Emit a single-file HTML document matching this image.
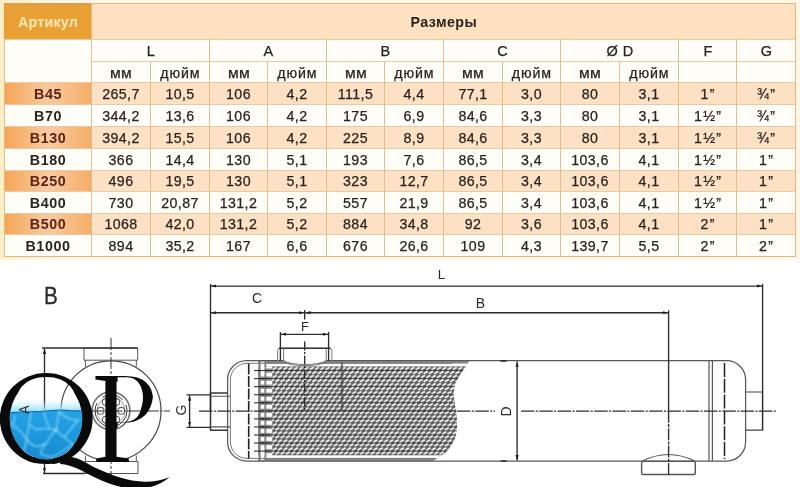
<!DOCTYPE html>
<html><head><meta charset="utf-8"><title>Размеры</title>
<style>
html,body{margin:0;padding:0;background:#fff;}
body{width:800px;height:487px;position:relative;overflow:hidden;font-family:"Liberation Sans",sans-serif;color:#2a2320;}
#tbl{position:absolute;left:0;top:0;width:800px;height:263px;background:linear-gradient(180deg,#fef6e2 0,#fef6e2 257px,#fffdf8 261px,#fff 263px);}
#tbl:before{content:"";position:absolute;left:0;top:0;width:60px;height:259px;background:linear-gradient(90deg,#fdeec4 0,#fdeec4 5px,rgba(253,238,196,0) 60px);}
#frame{position:absolute;left:4px;top:3px;width:792px;height:254px;box-sizing:border-box;border-right:1px solid #dcb98a;border-bottom:1px solid #dcb98a;pointer-events:none;}
.c{position:absolute;box-sizing:border-box;text-align:center;font-size:14.2px;border-left:1px solid #e0bc90;border-top:1px solid #e9caa2;white-space:nowrap;overflow:hidden;-webkit-text-stroke:0.25px #2a2320;letter-spacing:0.4px;}
.w{background:#fffdf8;}
.p{background:#fce1c4;}
.a1{background:linear-gradient(90deg,#f5a656 0%,#f9cba2 50%,#f6ad66 100%);color:#5a241a;-webkit-text-stroke-color:#5a241a;}
.b{font-weight:bold;font-size:14.3px;letter-spacing:0.6px;-webkit-text-stroke-width:0;}
.art{background:linear-gradient(180deg,#dc9c40 0,#e9a136 3px,#e9a136 100%);color:#fce8b2;font-weight:bold;font-size:14.3px;letter-spacing:0.2px;border-color:#d8a050;-webkit-text-stroke-width:0;}
.hdr{background:#fde1c1;font-weight:bold;font-size:14.3px;text-align:left;padding-left:318.5px;border-top-color:#d9b98e;-webkit-text-stroke-width:0;}
.h2{font-size:14.5px;padding-left:1.2px;}
.h3{font-size:14.2px;letter-spacing:0.9px;padding-left:0.8px;padding-top:0.6px;}
.mm{letter-spacing:0.3px;padding-left:0.3px;}
.mm span{display:inline-block;transform:scaleX(1.1);}
.fg{letter-spacing:1.3px;padding-left:1.3px;}
#dr{position:absolute;left:0;top:0;}
</style></head><body>
<div id="tbl">
<div class="c art" style="left:4px;top:3px;width:87px;height:36px;line-height:36px;">Артикул</div>
<div class="c hdr" style="left:91px;top:3px;width:704px;height:36px;line-height:36px;">Размеры</div>
<div class="c w" style="left:4px;top:39px;width:87px;height:43px;line-height:43px;"></div>
<div class="c w h2" style="left:91px;top:39px;width:118px;height:22px;line-height:22px;">L</div>
<div class="c w h3 mm" style="left:91px;top:61px;width:59px;height:21px;line-height:21px;"><span>мм</span></div>
<div class="c w h3" style="left:150px;top:61px;width:59px;height:21px;line-height:21px;">дюйм</div>
<div class="c w h2" style="left:209px;top:39px;width:117px;height:22px;line-height:22px;">A</div>
<div class="c w h3 mm" style="left:209px;top:61px;width:58px;height:21px;line-height:21px;"><span>мм</span></div>
<div class="c w h3" style="left:267px;top:61px;width:59px;height:21px;line-height:21px;">дюйм</div>
<div class="c w h2" style="left:326px;top:39px;width:117px;height:22px;line-height:22px;">B</div>
<div class="c w h3 mm" style="left:326px;top:61px;width:58px;height:21px;line-height:21px;"><span>мм</span></div>
<div class="c w h3" style="left:384px;top:61px;width:59px;height:21px;line-height:21px;">дюйм</div>
<div class="c w h2" style="left:443px;top:39px;width:117px;height:22px;line-height:22px;">C</div>
<div class="c w h3 mm" style="left:443px;top:61px;width:59px;height:21px;line-height:21px;"><span>мм</span></div>
<div class="c w h3" style="left:502px;top:61px;width:58px;height:21px;line-height:21px;">дюйм</div>
<div class="c w h2" style="left:560px;top:39px;width:118px;height:22px;line-height:22px;">Ø D</div>
<div class="c w h3 mm" style="left:560px;top:61px;width:59px;height:21px;line-height:21px;"><span>мм</span></div>
<div class="c w h3" style="left:619px;top:61px;width:59px;height:21px;line-height:21px;">дюйм</div>
<div class="c w h2" style="left:678px;top:39px;width:58px;height:22px;line-height:22px;">F</div>
<div class="c w h2" style="left:736px;top:39px;width:59px;height:22px;line-height:22px;">G</div>
<div class="c w" style="left:678px;top:61px;width:58px;height:21px;line-height:21px;"></div>
<div class="c w" style="left:736px;top:61px;width:59px;height:21px;line-height:21px;"></div>
<div class="c a1 b" style="left:4px;top:82px;width:87px;height:22px;line-height:22px;">B45</div>
<div class="c p" style="left:91px;top:82px;width:59px;height:22px;line-height:22px;">265,7</div>
<div class="c p" style="left:150px;top:82px;width:59px;height:22px;line-height:22px;">10,5</div>
<div class="c p" style="left:209px;top:82px;width:58px;height:22px;line-height:22px;">106</div>
<div class="c p" style="left:267px;top:82px;width:59px;height:22px;line-height:22px;">4,2</div>
<div class="c p" style="left:326px;top:82px;width:58px;height:22px;line-height:22px;">111,5</div>
<div class="c p" style="left:384px;top:82px;width:59px;height:22px;line-height:22px;">4,4</div>
<div class="c p" style="left:443px;top:82px;width:59px;height:22px;line-height:22px;">77,1</div>
<div class="c p" style="left:502px;top:82px;width:58px;height:22px;line-height:22px;">3,0</div>
<div class="c p" style="left:560px;top:82px;width:59px;height:22px;line-height:22px;">80</div>
<div class="c p" style="left:619px;top:82px;width:59px;height:22px;line-height:22px;">3,1</div>
<div class="c p fg" style="left:678px;top:82px;width:58px;height:22px;line-height:22px;">1”</div>
<div class="c p fg" style="left:736px;top:82px;width:59px;height:22px;line-height:22px;">¾”</div>
<div class="c w b" style="left:4px;top:104px;width:87px;height:22px;line-height:22px;">B70</div>
<div class="c w" style="left:91px;top:104px;width:59px;height:22px;line-height:22px;">344,2</div>
<div class="c w" style="left:150px;top:104px;width:59px;height:22px;line-height:22px;">13,6</div>
<div class="c w" style="left:209px;top:104px;width:58px;height:22px;line-height:22px;">106</div>
<div class="c w" style="left:267px;top:104px;width:59px;height:22px;line-height:22px;">4,2</div>
<div class="c w" style="left:326px;top:104px;width:58px;height:22px;line-height:22px;">175</div>
<div class="c w" style="left:384px;top:104px;width:59px;height:22px;line-height:22px;">6,9</div>
<div class="c w" style="left:443px;top:104px;width:59px;height:22px;line-height:22px;">84,6</div>
<div class="c w" style="left:502px;top:104px;width:58px;height:22px;line-height:22px;">3,3</div>
<div class="c w" style="left:560px;top:104px;width:59px;height:22px;line-height:22px;">80</div>
<div class="c w" style="left:619px;top:104px;width:59px;height:22px;line-height:22px;">3,1</div>
<div class="c w fg" style="left:678px;top:104px;width:58px;height:22px;line-height:22px;">1½”</div>
<div class="c w fg" style="left:736px;top:104px;width:59px;height:22px;line-height:22px;">¾”</div>
<div class="c a1 b" style="left:4px;top:126px;width:87px;height:22px;line-height:22px;">B130</div>
<div class="c p" style="left:91px;top:126px;width:59px;height:22px;line-height:22px;">394,2</div>
<div class="c p" style="left:150px;top:126px;width:59px;height:22px;line-height:22px;">15,5</div>
<div class="c p" style="left:209px;top:126px;width:58px;height:22px;line-height:22px;">106</div>
<div class="c p" style="left:267px;top:126px;width:59px;height:22px;line-height:22px;">4,2</div>
<div class="c p" style="left:326px;top:126px;width:58px;height:22px;line-height:22px;">225</div>
<div class="c p" style="left:384px;top:126px;width:59px;height:22px;line-height:22px;">8,9</div>
<div class="c p" style="left:443px;top:126px;width:59px;height:22px;line-height:22px;">84,6</div>
<div class="c p" style="left:502px;top:126px;width:58px;height:22px;line-height:22px;">3,3</div>
<div class="c p" style="left:560px;top:126px;width:59px;height:22px;line-height:22px;">80</div>
<div class="c p" style="left:619px;top:126px;width:59px;height:22px;line-height:22px;">3,1</div>
<div class="c p fg" style="left:678px;top:126px;width:58px;height:22px;line-height:22px;">1½”</div>
<div class="c p fg" style="left:736px;top:126px;width:59px;height:22px;line-height:22px;">¾”</div>
<div class="c w b" style="left:4px;top:148px;width:87px;height:22px;line-height:22px;">B180</div>
<div class="c w" style="left:91px;top:148px;width:59px;height:22px;line-height:22px;">366</div>
<div class="c w" style="left:150px;top:148px;width:59px;height:22px;line-height:22px;">14,4</div>
<div class="c w" style="left:209px;top:148px;width:58px;height:22px;line-height:22px;">130</div>
<div class="c w" style="left:267px;top:148px;width:59px;height:22px;line-height:22px;">5,1</div>
<div class="c w" style="left:326px;top:148px;width:58px;height:22px;line-height:22px;">193</div>
<div class="c w" style="left:384px;top:148px;width:59px;height:22px;line-height:22px;">7,6</div>
<div class="c w" style="left:443px;top:148px;width:59px;height:22px;line-height:22px;">86,5</div>
<div class="c w" style="left:502px;top:148px;width:58px;height:22px;line-height:22px;">3,4</div>
<div class="c w" style="left:560px;top:148px;width:59px;height:22px;line-height:22px;">103,6</div>
<div class="c w" style="left:619px;top:148px;width:59px;height:22px;line-height:22px;">4,1</div>
<div class="c w fg" style="left:678px;top:148px;width:58px;height:22px;line-height:22px;">1½”</div>
<div class="c w fg" style="left:736px;top:148px;width:59px;height:22px;line-height:22px;">1”</div>
<div class="c a1 b" style="left:4px;top:170px;width:87px;height:21px;line-height:21px;">B250</div>
<div class="c p" style="left:91px;top:170px;width:59px;height:21px;line-height:21px;">496</div>
<div class="c p" style="left:150px;top:170px;width:59px;height:21px;line-height:21px;">19,5</div>
<div class="c p" style="left:209px;top:170px;width:58px;height:21px;line-height:21px;">130</div>
<div class="c p" style="left:267px;top:170px;width:59px;height:21px;line-height:21px;">5,1</div>
<div class="c p" style="left:326px;top:170px;width:58px;height:21px;line-height:21px;">323</div>
<div class="c p" style="left:384px;top:170px;width:59px;height:21px;line-height:21px;">12,7</div>
<div class="c p" style="left:443px;top:170px;width:59px;height:21px;line-height:21px;">86,5</div>
<div class="c p" style="left:502px;top:170px;width:58px;height:21px;line-height:21px;">3,4</div>
<div class="c p" style="left:560px;top:170px;width:59px;height:21px;line-height:21px;">103,6</div>
<div class="c p" style="left:619px;top:170px;width:59px;height:21px;line-height:21px;">4,1</div>
<div class="c p fg" style="left:678px;top:170px;width:58px;height:21px;line-height:21px;">1½”</div>
<div class="c p fg" style="left:736px;top:170px;width:59px;height:21px;line-height:21px;">1”</div>
<div class="c w b" style="left:4px;top:191px;width:87px;height:22px;line-height:22px;">B400</div>
<div class="c w" style="left:91px;top:191px;width:59px;height:22px;line-height:22px;">730</div>
<div class="c w" style="left:150px;top:191px;width:59px;height:22px;line-height:22px;">20,87</div>
<div class="c w" style="left:209px;top:191px;width:58px;height:22px;line-height:22px;">131,2</div>
<div class="c w" style="left:267px;top:191px;width:59px;height:22px;line-height:22px;">5,2</div>
<div class="c w" style="left:326px;top:191px;width:58px;height:22px;line-height:22px;">557</div>
<div class="c w" style="left:384px;top:191px;width:59px;height:22px;line-height:22px;">21,9</div>
<div class="c w" style="left:443px;top:191px;width:59px;height:22px;line-height:22px;">86,5</div>
<div class="c w" style="left:502px;top:191px;width:58px;height:22px;line-height:22px;">3,4</div>
<div class="c w" style="left:560px;top:191px;width:59px;height:22px;line-height:22px;">103,6</div>
<div class="c w" style="left:619px;top:191px;width:59px;height:22px;line-height:22px;">4,1</div>
<div class="c w fg" style="left:678px;top:191px;width:58px;height:22px;line-height:22px;">1½”</div>
<div class="c w fg" style="left:736px;top:191px;width:59px;height:22px;line-height:22px;">1”</div>
<div class="c a1 b" style="left:4px;top:213px;width:87px;height:21px;line-height:21px;">B500</div>
<div class="c p" style="left:91px;top:213px;width:59px;height:21px;line-height:21px;">1068</div>
<div class="c p" style="left:150px;top:213px;width:59px;height:21px;line-height:21px;">42,0</div>
<div class="c p" style="left:209px;top:213px;width:58px;height:21px;line-height:21px;">131,2</div>
<div class="c p" style="left:267px;top:213px;width:59px;height:21px;line-height:21px;">5,2</div>
<div class="c p" style="left:326px;top:213px;width:58px;height:21px;line-height:21px;">884</div>
<div class="c p" style="left:384px;top:213px;width:59px;height:21px;line-height:21px;">34,8</div>
<div class="c p" style="left:443px;top:213px;width:59px;height:21px;line-height:21px;">92</div>
<div class="c p" style="left:502px;top:213px;width:58px;height:21px;line-height:21px;">3,6</div>
<div class="c p" style="left:560px;top:213px;width:59px;height:21px;line-height:21px;">103,6</div>
<div class="c p" style="left:619px;top:213px;width:59px;height:21px;line-height:21px;">4,1</div>
<div class="c p fg" style="left:678px;top:213px;width:58px;height:21px;line-height:21px;">2”</div>
<div class="c p fg" style="left:736px;top:213px;width:59px;height:21px;line-height:21px;">1”</div>
<div class="c w b" style="left:4px;top:234px;width:87px;height:22px;line-height:22px;">B1000</div>
<div class="c w" style="left:91px;top:234px;width:59px;height:22px;line-height:22px;">894</div>
<div class="c w" style="left:150px;top:234px;width:59px;height:22px;line-height:22px;">35,2</div>
<div class="c w" style="left:209px;top:234px;width:58px;height:22px;line-height:22px;">167</div>
<div class="c w" style="left:267px;top:234px;width:59px;height:22px;line-height:22px;">6,6</div>
<div class="c w" style="left:326px;top:234px;width:58px;height:22px;line-height:22px;">676</div>
<div class="c w" style="left:384px;top:234px;width:59px;height:22px;line-height:22px;">26,6</div>
<div class="c w" style="left:443px;top:234px;width:59px;height:22px;line-height:22px;">109</div>
<div class="c w" style="left:502px;top:234px;width:58px;height:22px;line-height:22px;">4,3</div>
<div class="c w" style="left:560px;top:234px;width:59px;height:22px;line-height:22px;">139,7</div>
<div class="c w" style="left:619px;top:234px;width:59px;height:22px;line-height:22px;">5,5</div>
<div class="c w fg" style="left:678px;top:234px;width:58px;height:22px;line-height:22px;">2”</div>
<div class="c w fg" style="left:736px;top:234px;width:59px;height:22px;line-height:22px;">2”</div>
<div id="frame"></div>
</div>
<svg id="dr" width="800" height="487" viewBox="0 0 800 487" font-family="'Liberation Sans',sans-serif">
<defs>
<pattern id="ht" x="267" y="366.6" width="5.3" height="8.05" patternUnits="userSpaceOnUse">
<rect width="5.3" height="8.05" fill="#606060"/>
<path d="M0.9,2.75 L3.8,1.0 M3.55,6.75 L6.45,5.0 M-1.75,6.75 L1.15,5.0" stroke="#fff" stroke-width="1.65" stroke-linecap="round"/>
<path d="M0,3.95 H5.3" stroke="#262626" stroke-width="0.7"/>
</pattern>
<pattern id="st" x="267" y="366.6" width="5.3" height="8.05" patternUnits="userSpaceOnUse">
<rect width="5.3" height="8.05" fill="#fff"/><rect y="1.9" width="5.3" height="4.2" fill="#909090"/><rect y="3.5" width="5.3" height="0.95" fill="#1c1c1c"/></pattern>
<clipPath id="brk"><path id="brkp" d="M256,360 H470 C462,372 454,382 453.7,392 C453.5,402 457.5,414 457,426 C456.5,438 452,446 446,452 L432.6,461.5 H256 Z"/></clipPath>
<marker id="ar" viewBox="0 0 6 4" refX="6" refY="2" markerUnits="userSpaceOnUse" markerWidth="5.4" markerHeight="3.6" orient="auto-start-reverse"><path d="M0,0.2 L6,2 L0,3.8 Z" fill="#222"/></marker>
</defs>

<!-- ===== main view ===== -->
<g fill="none" stroke="#4a4a4a" stroke-width="1">
<!-- hatch -->
<g clip-path="url(#brk)">
<rect x="258" y="361" width="215" height="100" fill="#8a8a8a" stroke="none"/>
<rect x="258" y="363.6" width="215" height="3" fill="#fff" stroke="none"/>
<rect x="258" y="455.2" width="215" height="3" fill="#fff" stroke="none"/>
<rect x="266" y="366.6" width="8" height="88.6" fill="url(#st)" stroke="none"/>
<rect x="272.3" y="366.6" width="205" height="88.6" fill="url(#ht)" stroke="none"/>
<rect x="258.5" y="361.5" width="7.6" height="98.8" fill="#808080" stroke="none"/>
<rect x="260.7" y="366.6" width="5.4" height="88.6" fill="url(#st)" stroke="none"/>
<rect x="264.4" y="364" width="1.8" height="93.8" fill="#808080" stroke="none"/>
<rect x="260.7" y="361.6" width="3.7" height="12.4" fill="#fff" stroke="none"/>
<rect x="260.7" y="447.6" width="3.7" height="12.4" fill="#fff" stroke="none"/>
<path d="M342,362 V410.8" stroke="#555" stroke-width="1.6"/>
</g>
<!-- shell -->
<path d="M246.5,360.7 H726.5 A19,19 0 0 1 745.6,379.7 V442 A19,19 0 0 1 726.5,461 H246.5 A19,19 0 0 1 227.6,442 V379.7 A19,19 0 0 1 246.5,360.7 Z" stroke="#585858" stroke-width="1.25"/>
<path d="M452,363.3 H247 A16.5,16.5 0 0 0 230.4,379.7 V442 A16.5,16.5 0 0 0 247,458.4 H436" stroke="#777" stroke-width="1"/>
<!-- tube lines left of hatch -->
<path d="M254,370.6 H268 M254,378.65 H268 M254,386.7 H268 M254,394.75 H268 M254,402.8 H268 M254,418.9 H268 M254,426.95 H268 M254,435 H268 M254,443.05 H268 M254,451.1 H268" stroke="#222" stroke-width="1"/>
<!-- dashed verticals -->
<path d="M248.7,363.5 V458.5" stroke="#222" stroke-width="1.6" stroke-dasharray="11 1.5"/>
<path d="M724.5,363 V459" stroke="#222" stroke-width="1.5" stroke-dasharray="14 1.8"/>
<path d="M709,361 V461 M712.4,361 V461" stroke="#555" stroke-width="1.2"/>
<!-- nozzle G left -->
<path d="M228,393 H210.5 V430.3 H228" stroke="#383838" stroke-width="1.5"/>
<path d="M210.5,396.3 H230 M210.5,426.9 H230" stroke="#555" stroke-width="1.1"/>
<!-- nozzle right -->
<path d="M745.6,392 H762.5 V430.2 H745.6" stroke="#444" stroke-width="1.2"/>
<!-- nozzle F top -->
<path d="M284.1,359.5 V360.9 C292,365.6 318,365.6 325.7,360.9 V359.5 Z" fill="#fff" stroke="none"/>
<path d="M277.6,361 V350.5 Q277.6,348.3 280,348.3 H329.5 Q331.9,348.3 331.9,350.5 V361" stroke="#777"/>
<path d="M279,348.3 H330.5" stroke="#333" stroke-width="1.5"/>
<path d="M283.6,348.5 V360.7 C292,365.8 318,365.8 326.2,360.7 V348.5" stroke="#777"/>
<path d="M283.6,361.9 C292,367 318,367 326.2,361.9" stroke="#777"/>
<!-- foot bottom -->
<rect x="641.6" y="461.4" width="53.7" height="13.1" rx="1.5" stroke="#555" stroke-width="1.4"/>
<path d="M642.5,461 Q668.5,448 694.5,461" stroke="#555" stroke-width="1.2"/>
</g>
<!-- dimension / center lines -->
<g fill="none" stroke="#2c2c2c" stroke-width="1.35">
<path d="M210.5,284 V410.8"/>
<path d="M762.6,283.7 V430.2"/>
<path d="M211,286.1 H762" marker-start="url(#ar)" marker-end="url(#ar)"/>
<path d="M211,312.7 H304.2" marker-start="url(#ar)" marker-end="url(#ar)"/>
<path d="M305.2,312.7 H668.2" marker-start="url(#ar)" marker-end="url(#ar)"/>
<path d="M304.7,310 V319.5"/>
<path d="M304.7,341.6 V410.8" stroke-dasharray="9 1.5 2 1.5"/>
<path d="M668.6,310.3 V410.8"/>
<path d="M668.6,410.8 V476" stroke-dasharray="12 1.2 3 1.2"/>
<path d="M280.4,332 V360.7 M328.6,332 V360.7"/>
<path d="M281,334.3 H328" marker-start="url(#ar)" marker-end="url(#ar)"/>
<!-- G dim -->
<path d="M186.5,394.9 H210.5 M186.5,427.4 H210.5"/>
<path d="M189.6,395.4 V426.9" marker-start="url(#ar)" marker-end="url(#ar)"/>
<!-- D dim -->
<path d="M517.1,361.4 V460.5" marker-start="url(#ar)" marker-end="url(#ar)"/>
<path d="M500.5,360.9 H506.5 M500.5,461 H506.5" stroke-width="1.6"/>
<!-- center line -->
<path d="M199,411.1 H262" stroke-dasharray="13.5 1.4 2 1.4"/>
<path d="M262,411.1 H457" stroke="#3a3a3a" stroke-width="0.6"/>
<path d="M457,411.1 H495" stroke-dasharray="13.5 1.4 2 1.4"/>
<path d="M521,411.1 H777" stroke-dasharray="13.5 1.4 2 1.4"/>
</g>

<!-- ===== end view ===== -->
<g fill="none" stroke="#555" stroke-width="1">
<circle cx="111" cy="410.8" r="50" stroke="#484848" stroke-width="1.2"/>
<path d="M84,348 H137.7 V360.2 H84 Z M85.4,360.2 V366.5 M136.3,360.2 V366.5" />
<path d="M85.4,455.5 V461.5 M136.3,455.5 V461.5 M84.7,461.5 H138 V473.5 H84.7 Z"/>
<circle cx="111" cy="410.8" r="18.9" stroke="#777" stroke-width="1.6"/>
<circle cx="111" cy="410.8" r="16" stroke="#333" stroke-width="1" stroke-dasharray="22 6 30 8"/>
<circle cx="111" cy="410.8" r="14" stroke="#888" stroke-width="0.8"/>
<g stroke="#666" stroke-width="1.1"><circle cx="121.3" cy="410.8" r="3.4"/><circle cx="100.7" cy="410.8" r="3.4"/><circle cx="116.2" cy="402" r="3.4"/><circle cx="105.8" cy="402" r="3.4"/><circle cx="116.2" cy="419.6" r="3.4"/><circle cx="105.8" cy="419.6" r="3.4"/></g>
</g>
<g fill="none" stroke="#2c2c2c" stroke-width="1.35">
<path d="M42,348 H84 M43,473.5 H84.7"/>
<path d="M44.5,348.5 V473" marker-start="url(#ar)" marker-end="url(#ar)"/>
<path d="M111,338 V484" stroke-dasharray="12 2 3 2" stroke-width="1" stroke="#333"/>
<path d="M54,411 H170" stroke-dasharray="13.5 1.4 2 1.4" stroke-width="1.1" stroke="#333"/>
<path d="M84,348 H137.7" stroke-width="1.5" stroke="#333"/>
</g>
<!-- ===== QP logo ===== -->
<defs>
<clipPath id="wc"><ellipse cx="46" cy="418.8" rx="36.3" ry="40.6"/></clipPath>
<clipPath id="qc"><path clip-rule="evenodd" d="M-10,360 H100 V465.8 H-10 Z M9.7,418.8 a36.3,40.6 0 1 0 72.6,0 a36.3,40.6 0 1 0 -72.6,0 Z"/></clipPath>
<linearGradient id="wg" x1="0" y1="0" x2="0" y2="1"><stop offset="0" stop-color="#25a3e5"/><stop offset="0.5" stop-color="#1b95db"/><stop offset="1" stop-color="#1482ca"/></linearGradient>
<linearGradient id="gl" x1="0" y1="0" x2="0" y2="1"><stop offset="0" stop-color="#c8f1fc" stop-opacity="0"/><stop offset="1" stop-color="#8fdcf8" stop-opacity="1"/></linearGradient>
<clipPath id="qo"><ellipse cx="46.2" cy="418.8" rx="46.4" ry="45.9"/></clipPath>
<clipPath id="pc"><path clip-rule="evenodd" d="M85,365 H175 V470 H85 Z M117.6,377.3 H127 C137.5,377.3 143,386.5 143,397.5 C143,408.5 137.5,417.8 128,417.8 H125 V423 H117.6 Z M117.6,422.6 H126 C134,422.6 142,419 147,413 C150,409 152,404 152.8,398 L160,398 V440 H117.6 Z"/></clipPath>
<filter id="bl" x="-10%" y="-10%" width="120%" height="120%"><feGaussianBlur stdDeviation="0.9"/></filter>
</defs>
<g clip-path="url(#wc)">
<rect x="0" y="399" width="95" height="13" fill="url(#gl)"/>
<path d="M0,413 C8,412 14,413 22,412.2 C30,411.4 36,412 44,411.3 C52,410.6 58,409.8 66,410.3 C74,410.8 82,411.2 95,410.4 V470 H0 Z" fill="url(#wg)"/>
<path d="M0,413 C8,412 14,413 22,412.2 C30,411.4 36,412 44,411.3 C52,410.6 58,409.8 66,410.3 C74,410.8 82,411.2 95,410.4" fill="none" stroke="#1273b4" stroke-width="1.2"/>
<g fill="none" stroke="#86daf8" stroke-width="1.5" opacity="0.85" filter="url(#bl)">
<path d="M31,412 C30,418 29.5,421 29,425 C28,431 27.5,435 26.6,439.6 C26,444 25,447 24,451 M36.6,429.5 C41,428 50,428 56,430 M56,430 C57,424 58.5,417 59,411 M56,430 C59,433 62,435.5 64,437 C67,440 70,442 72.6,444 C75,447 77,450 78,453 M56,430 C53,433 51.5,435.5 50,437 C49,439 48,441 46.7,442.5 C44.5,446 42,449 40,453 M29,425 C32,427 34,428.5 36.6,429.5 M26.6,439.6 C30,443 33,446 36,446.5 C40,446.5 43,444.5 46.7,442.5 M40,453 C44,456 48,457 52,456.5 C58,455 66,449 72.6,444 M11,424 C15,427 18,429 20,431 C23,434 25,437 26.6,439.6 M59,411 C62,415 66,417.5 70,419 C73,420 76,420.3 80,420 M64,437 C67,434 70,430 72,427.5 C74,425 76,422.5 78,420 M14,415 C16,419 14,422 11,424 M44,412 C45,418 47,424 50,428"/>
<circle cx="56" cy="430" r="1.6" fill="#c8f2ff" stroke="none"/>
</g>
</g>
<text transform="translate(29.3,409.7) rotate(-90) scale(0.84,1)" font-size="14.6px" fill="#2a2a2a" text-anchor="middle">A</text>
<g font-family="'Liberation Serif',serif" fill="#0a0a0a">
<g clip-path="url(#qo)"><g clip-path="url(#qc)"><text transform="translate(-6.9,462.6) scale(1.072,1)" font-size="137.4px">Q</text></g></g>
<g clip-path="url(#pc)"><text transform="translate(92.1,461.8) scale(0.905,1)" font-size="131px">P</text></g>
<path d="M62,458 C72,455 80,459 90,465 C100,470.5 118,477.8 132,480.6 C146,483 160,481.5 169.5,477 C162,484 150,488.5 138,489 C120,489 100,481 82.5,471 C76,467.5 68,464.5 60,464 Z"/>
</g>
<g fill="#2a2a2a" font-size="14px" text-anchor="middle">
<text x="441.5" y="278.7" font-size="13.5px">L</text>
<text x="257" y="303">C</text>
<text x="480.3" y="307.9">B</text>
<text x="305" y="331.4" font-size="13px">F</text>
<text transform="translate(185.6,410.1) rotate(-90)" font-size="14px">G</text>
<text transform="translate(511,411.5) rotate(-90)">D</text>
<text transform="translate(44.1,303.8) scale(0.88,1)" text-anchor="start" font-size="23.5px" stroke="#2a2a2a" stroke-width="0.3">B</text>
</g>
</svg>

</body></html>
